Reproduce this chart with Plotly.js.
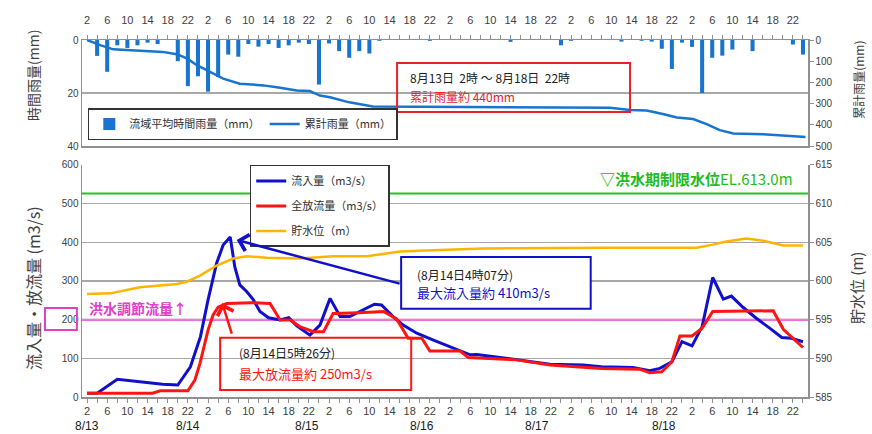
<!DOCTYPE html>
<html>
<head>
<meta charset="utf-8">
<script src="https://cdn.plot.ly/plotly-3.0.1.min.js"></script>
<style>html,body{margin:0;padding:0;background:#fff}#chart{width:872px;height:434px}</style>
</head>
<body>
<div id="chart"></div>
<script>
// ---- data (hours counted from 8/13 0:00) ----
const hourTicks = [2,6,10,14,18,22,26,30,34,38,42,46,50,54,58,62,66,70,74,78,82,86,90,94,98,102,106,110,114,118,122,126,130,134,138,142];
const hourTickText = ['2','6','10','14','18','22','2','6','10','14','18','22','2','6','10','14','18','22','2','6','10','14','18','22','2','6','10','14','18','22','2','6','10','14','18','22'];
const dateLabels = ['8/13','8/14','8/15','8/16','8/17','8/18'];
const dateLabelHours = [2,22,45.6,68.5,91.2,116.4];

const rainHours = [4,6,8,10,12,14,16,20,22,24,26,28,30,32,34,36,38,40,42,44,46,48,50,52,54,56,58,60,70,86,96,98,108,112,114,116,118,120,122,124,126,128,130,134,142,144];
const rainMm    = [6,12,2,3,2,1,1.5,8,17.4,13.7,19.5,14,5.5,6.3,1.5,2.5,1.5,3,2,1,1.5,16.8,1.3,4.2,6.7,4.2,5.1,0.3,0.3,0.7,2,0.3,0.6,0.3,0.6,3.3,10.9,1,2.6,20,6.7,5.9,3.6,4.2,1.7,5.5];

const cumHours = [2,4.6,7.2,10.5,17,19.8,21.8,23.8,26.4,29,32.3,37,40.3,43.6,46.2,48.2,50.2,54,58.7,70,90,105.7,109.7,113,116.2,119,122.2,124.9,127.5,130.2,136.1,141.4,144.5];
const cumMm    = [0,24,44,48,56,67,87,119,151,182,206,214,225,238,241,262,270,294,314,316,318,320,330,333,349,365,373,397,425,441,444,452,457];

const inflowHours = [2,4,8,14,17,20,22.5,24.5,26,27.7,29,30.4,31.3,32.3,33.7,35,36.3,38,40.3,42,43.6,46.2,48.2,50.2,52.2,54.1,56.8,59,60.4,62.7,64.7,67.4,70.7,74,76.6,78,79.3,82.6,87.2,93.8,100.4,104,110.3,113.6,115.6,118,120,122,124,126.1,128.2,129.8,132.1,134.8,137.4,139.8,141.7,144];
const inflow      = [10,10,46,37,33,31,78,156,251,346,393,414,337,290,272,251,221,205,199,205,184,160,186,255,208,208,225,240,238,208,186,165,147,130,117,109,110,104,96,85,83,78,76,68,74,91,143,132,182,309,253,261,232,203,178,154,152,143];

const outflowHours = [2,15,16.5,22,23.4,24.4,26,27,28,29.7,34.7,38.3,40.3,42.3,44.2,46.9,48.9,50.8,56,60.8,63.4,65.7,68.4,70,76,77.6,87.2,93.8,104,111.6,113.6,116,118,119.6,122,124,126.1,132.8,138.1,140.1,142,144];
const outflow      = [10,10,16,16,44,87,173,212,232,242,244,242,199,199,182,169,169,216,218,221,202,152,152,119,119,102,96,83,74,72,63,65,91,158,158,178,221,223,223,175,152,128];

const levelHours = [2,6.6,12.5,19.8,21.8,24.4,27.7,31,33.7,37.6,44.2,50.8,57.5,64.1,72,80.6,105.7,122.9,126.1,128.8,132.8,136.1,140.1,144];
const level      = [598.3,598.4,599.2,599.6,599.9,600.7,602,602.9,603.2,603,602.9,603.2,603.2,603.8,604,604.2,604.3,604.3,604.7,605.1,605.5,605.2,604.6,604.6];

const limitLevel = 611.3;      // drawn position of flood-season limit level line
const controlFlow = 200;       // flood control discharge
const peakInflow = {x: 31.7, y: 406, ax: 64.3, ay: 292};
const peakOutflow = {x: 28.8, y: 243, ax: 30.8, ay: 160};

const F = 'Liberation Sans, Noto Sans CJK JP, sans-serif';
const JP = 'Noto Sans CJK JP, Liberation Sans, sans-serif';
const GRID = '#A8A8A8';
const TXT = '#404040';

const traces = [
  {type:'bar', x: rainHours, y: rainMm, xaxis:'x', yaxis:'y', width:0.8,
   marker:{color:'#1874CD'}, name:'流域平均時間雨量（mm）', legend:'legend'},
  {type:'scatter', mode:'lines', x: cumHours, y: cumMm, xaxis:'x', yaxis:'y3',
   line:{color:'#1874CD', width:2.5}, name:'累計雨量（mm）', legend:'legend'},
  {type:'scatter', mode:'lines', x: inflowHours, y: inflow, xaxis:'x2', yaxis:'y2',
   line:{color:'#1010CC', width:3}, name:'流入量（m3/s）', legend:'legend2', legendgroup:'a'},
  {type:'scatter', mode:'lines', x: outflowHours, y: outflow, xaxis:'x2', yaxis:'y2',
   line:{color:'#FF1414', width:3}, name:'全放流量（m3/s）', legend:'legend2', legendgroup:'b'},
  {type:'scatter', mode:'lines', x: levelHours, y: level, xaxis:'x2', yaxis:'y4',
   line:{color:'#FFB400', width:2.5}, name:'貯水位（m）', legend:'legend2', legendgroup:'c'}
];

const xRange = [1,145];
const annotations = [];
dateLabels.forEach((d,i)=>annotations.push({xref:'x2', yref:'paper', x:dateLabelHours[i], y:-0.08,
  yanchor:'middle', xanchor:'center', text:d, showarrow:false, font:{family:F, size:12, color:'#202020'}}));

annotations.push(
  // axis titles
  {xref:'paper', yref:'paper', x:-0.0675, y:0.902, xanchor:'center', yanchor:'middle', text:'時間雨量(mm)', textangle:-90, showarrow:false, font:{family:JP, size:14, color:TXT}},
  {xref:'paper', yref:'paper', x:1.07, y:0.888, xanchor:'center', yanchor:'middle', text:'累計雨量(mm)', textangle:-90, showarrow:false, font:{family:JP, size:12, color:TXT}},
  {xref:'paper', yref:'paper', x:-0.0675, y:0.305, xanchor:'center', yanchor:'middle', text:'流入量・放流量 (m3/s)', textangle:-90, showarrow:false, font:{family:JP, size:16, color:TXT}},
  {xref:'paper', yref:'paper', x:1.066, y:0.305, xanchor:'center', yanchor:'middle', text:'貯水位 (m)', textangle:-90, showarrow:false, font:{family:JP, size:15, color:TXT}},
  // top box texts
  {xref:'x', yref:'y', x:65.6, y:14.3, xanchor:'left', text:'8月13日  2時 ～ 8月18日  22時', showarrow:false, font:{family:JP, size:12, color:'#202020'}},
  {xref:'x', yref:'y', x:65.6, y:21.5, xanchor:'left', text:'累計雨量約 440mm', showarrow:false, font:{family:JP, size:12, color:'#E8202A'}},
  // level label
  {xref:'x2', yref:'y2', x:142.4, y:564, xanchor:'right', text:'<b>▽洪水期制限水位</b>EL.613.0m', showarrow:false, font:{family:JP, size:15, color:'#22BB22'}},
  // control flow label
  {xref:'x2', yref:'y2', x:2, y:230, xanchor:'left', text:'<b>洪水調節流量↑</b>', showarrow:false, font:{family:JP, size:14, color:'#E040C8'}},
  // blue box texts
  {xref:'x2', yref:'y2', x:67, y:318, xanchor:'left', text:'(8月14日4時07分)', showarrow:false, font:{family:JP, size:12, color:'#202020'}},
  {xref:'x2', yref:'y2', x:67, y:269, xanchor:'left', text:'最大流入量約 410m3/s', showarrow:false, font:{family:JP, size:13, color:'#1010CC'}},
  // red box texts
  {xref:'x2', yref:'y2', x:31.8, y:114, xanchor:'left', text:'(8月14日5時26分)', showarrow:false, font:{family:JP, size:12, color:'#202020'}},
  {xref:'x2', yref:'y2', x:31.8, y:62, xanchor:'left', text:'最大放流量約 250m3/s', showarrow:false, font:{family:JP, size:13, color:'#FF1414'}},
  // arrows
  {xref:'x2', yref:'y2', axref:'x2', ayref:'y2', x:peakInflow.x, y:peakInflow.y, ax:peakInflow.ax, ay:peakInflow.ay,
   text:'', showarrow:true, arrowhead:4, arrowsize:1.3, arrowwidth:2.5, arrowcolor:'#1010CC'},
  {xref:'x2', yref:'y2', axref:'x2', ayref:'y2', x:peakOutflow.x, y:peakOutflow.y, ax:peakOutflow.ax, ay:peakOutflow.ay,
   text:'', showarrow:true, arrowhead:4, arrowsize:1.3, arrowwidth:2.5, arrowcolor:'#FF1414'}
);

const shapes = [
  {type:'line', xref:'x2', yref:'y4', x0:xRange[0], x1:xRange[1], y0:limitLevel, y1:limitLevel, line:{color:'#22C322', width:2}, layer:'below'},
  {type:'line', xref:'x2', yref:'y2', x0:xRange[0], x1:xRange[1], y0:controlFlow, y1:controlFlow, line:{color:'#E040C8', width:2}, layer:'below'},
  {type:'rect', xref:'paper', yref:'y2', x0:-0.051, x1:-0.007, y0:173, y1:230, line:{color:'#E040C8', width:2}},
  {type:'rect', xref:'x', yref:'y', x0:63.5, x1:109.7, y0:8.7, y1:27.2, line:{color:'#E8202A', width:2}},
  {type:'rect', xref:'x2', yref:'y2', x0:64.3, x1:101.9, y0:228, y1:362, fillcolor:'#FFFFFF', line:{color:'#1010CC', width:2}},
  {type:'rect', xref:'x2', yref:'y2', x0:28.4, x1:66.3, y0:18, y1:153, line:{color:'#FF1414', width:2}}
];

const xCommon = {range:xRange, tickmode:'array', tickvals:hourTicks, ticktext:hourTickText,
  showgrid:false, showline:true, linecolor:'#909090', linewidth:1.5, ticks:'outside', ticklen:4, tickcolor:'#909090',
  minor:{dtick:2, tick0:0, ticks:'outside', ticklen:4, tickcolor:'#909090'},
  tickfont:{family:F, size:11, color:TXT}, zeroline:false};

const layout = {
  width:872, height:434, margin:{l:82, r:64, t:40, b:37},
  paper_bgcolor:'#fff', plot_bgcolor:'#fff', font:{family:F, color:TXT},
  showlegend:true,
  xaxis: Object.assign({}, xCommon, {anchor:'y', side:'top', mirror:true, ticklabelstandoff:6}),
  xaxis2: Object.assign({}, xCommon, {anchor:'y2', ticklabelstandoff:-1, tickfont:{family:F, size:11, color:TXT}}),
  yaxis: {domain:[0.703,1], range:[40,0], tickvals:[0,20,40], showgrid:true, gridcolor:GRID, gridwidth:1.2,
    showline:true, linecolor:'#909090', linewidth:1.5, ticks:'', zeroline:false, tickfont:{family:F, size:10, color:TXT}},
  yaxis3: {overlaying:'y', side:'right', anchor:'x', range:[500,0], dtick:100, showgrid:false,
    showline:true, linecolor:'#909090', linewidth:1.5, ticks:'outside', ticklen:4, tickcolor:'#909090', zeroline:false, tickfont:{family:F, size:10, color:TXT}},
  yaxis2: {domain:[0,0.65], anchor:'x2', range:[0,600], dtick:100, showgrid:true, gridcolor:GRID, gridwidth:1.2,
    showline:true, linecolor:'#909090', linewidth:1.5, ticks:'', zeroline:false, tickfont:{family:F, size:10, color:TXT}},
  yaxis4: {overlaying:'y2', anchor:'x2', side:'right', range:[585,615], dtick:5, showgrid:false,
    showline:true, linecolor:'#909090', linewidth:1.5, ticks:'outside', ticklen:4, tickcolor:'#909090', zeroline:false, tickfont:{family:F, size:10, color:TXT}},
  legend: {x:0.008, y:0.8095, xanchor:'left', yanchor:'top', orientation:'h', bgcolor:'#fff',
    bordercolor:'#333', borderwidth:1.5, font:{family:JP, size:11, color:'#303030'}},
  legend2: {x:0.231, y:0.65, xanchor:'left', yanchor:'top', orientation:'v', bgcolor:'#fff',
    bordercolor:'#333', borderwidth:1.5, traceorder:'grouped', tracegroupgap:6, font:{family:JP, size:11, color:'#303030'}},
  annotations: annotations,
  shapes: shapes
};

Plotly.newPlot('chart', traces, layout, {displayModeBar:false, staticPlot:true});
</script>
</body>
</html>
